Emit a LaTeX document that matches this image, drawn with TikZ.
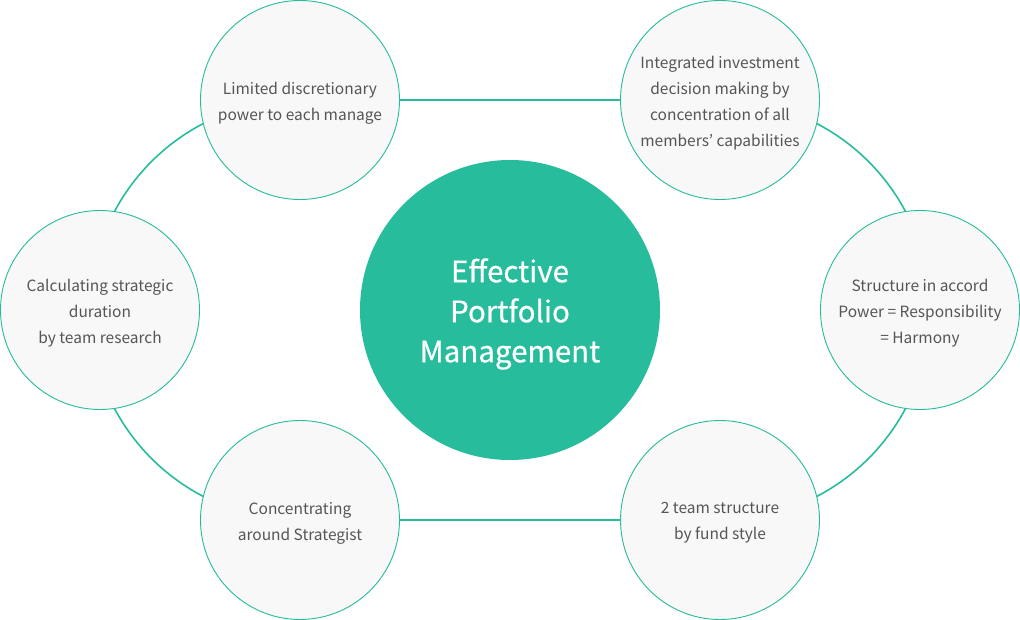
\documentclass[tikz,border=0pt]{standalone}
\usepackage{fontspec}
\setmainfont{Noto Sans CJK KR}
\newfontfamily\centerfont[FakeBold=0.6]{Noto Sans CJK KR}
\definecolor{teal1}{HTML}{26BC9C}
\definecolor{fillg}{HTML}{F8F8F8}
\definecolor{txt}{HTML}{555555}
\begin{document}
\begin{tikzpicture}[x=1pt,y=-1pt,
  small/.style={circle,draw=teal1,line width=0.9pt,fill=fillg,minimum size=199pt,inner sep=0pt},
  smalltext/.style={align=center,text=txt,inner sep=0pt,font=\fontsize{15.5}{26}\selectfont,yshift=-3pt},
  big/.style={circle,fill=teal1,minimum size=300pt,inner sep=0pt},
  bigtext/.style={align=center,text=white,inner sep=0pt,font=\centerfont\fontsize{29.5}{40}\selectfont,yshift=-4pt},
  link/.style={draw=teal1,line width=1.6pt}]
\useasboundingbox (0,0) rectangle (1020,620);
\coordinate (tl0) at (300,100);
\coordinate (tr0) at (720,100);
\coordinate (bl0) at (300,520);
\coordinate (br0) at (720,520);
\draw[link] (tl0) -- (tr0) arc[start angle=-90,end angle=90,radius=210] -- (bl0) arc[start angle=90,end angle=270,radius=210];
\node[big] (c) at (510,310) {};
\node[bigtext] (ct) at (c) {Effective\\Portfolio\\Management};
\node[small] (tl) at (300,100) {};
\node[small] (tr) at (720,100) {};
\node[small] (l) at (100,310) {};
\node[small] (r) at (920,310) {};
\node[small] (bl) at (300,520) {};
\node[small] (br) at (720,520) {};
\node[smalltext] (tlt) at (tl) {Limited discretionary\\power to each manage};
\node[smalltext] (trt) at (tr) {Integrated investment\\decision making by\\concentration of all\\members’ capabilities};
\node[smalltext] (lt) at (l) {Calculating strategic\\duration\\by team research};
\node[smalltext] (rt) at (r) {Structure in accord\\Power = Responsibility\\= Harmony};
\node[smalltext] (blt) at (bl) {Concentrating\\around Strategist};
\node[smalltext] (brt) at (br) {2 team structure\\by fund style};
\end{tikzpicture}
\end{document}
